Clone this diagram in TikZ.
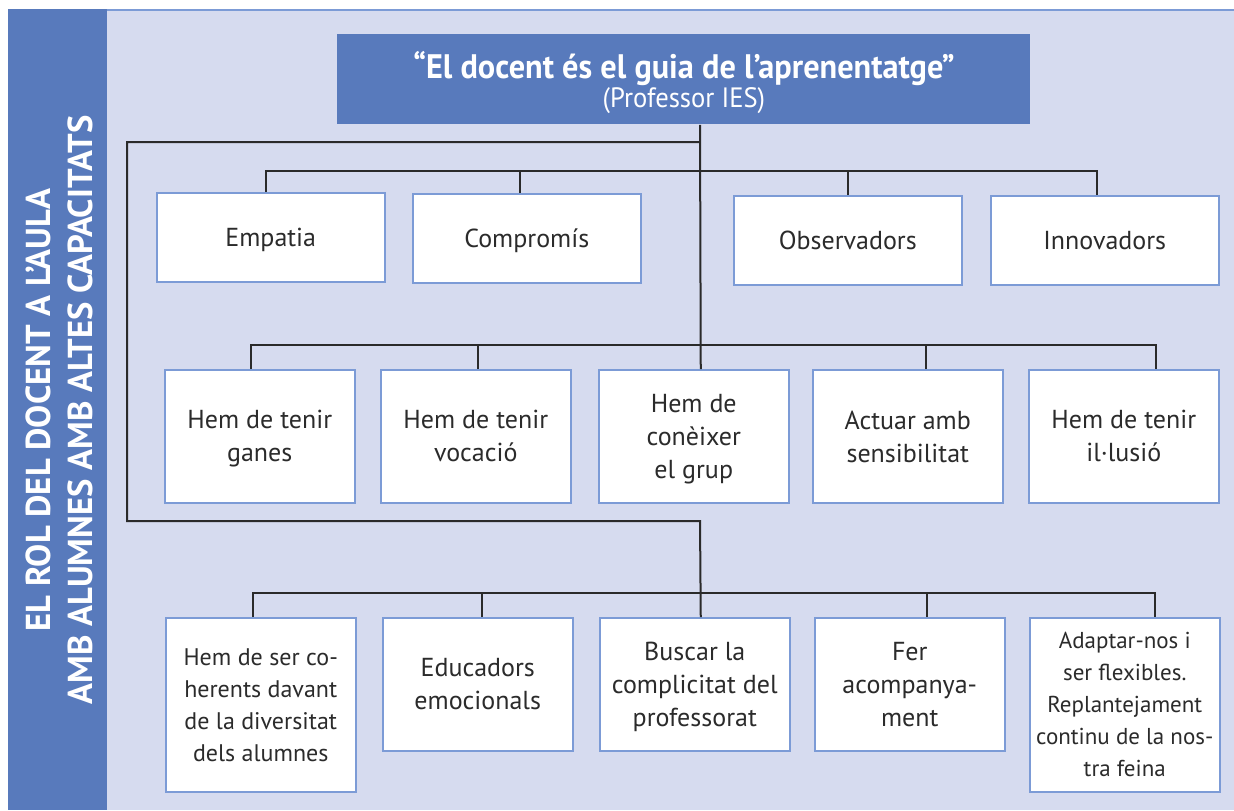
\documentclass[tikz,border=0pt]{standalone}
\usepackage{fontspec}
\setmainfont{PT Sans}
\newfontfamily\ttlfamily[FakeStretch=0.95]{PT Sans}
\usetikzlibrary{calc,positioning}
\usepackage{xcolor}
\newcommand{\pxu}{0.5pt}
\definecolor{bandblue}{HTML}{587ABC}
\definecolor{lavender}{HTML}{D6DBEF}
\definecolor{boxline}{HTML}{7C9BD6}
\definecolor{linegray}{HTML}{2A2A2A}
\definecolor{txtgray}{HTML}{2B2B2B}
\tikzset{
    boxsty/.style={draw=boxline,line width=0.75pt,fill=white,rectangle,anchor=north west,
        align=center,text=txtgray,inner sep=0pt,minimum width=190*\pxu,minimum height=133*\pxu,
        text depth=-3pt,font=\fontsize{13}{16.5}\selectfont},
    widesty/.style={minimum width=228*\pxu,minimum height=89*\pxu},
    tallsty/.style={minimum height=174*\pxu},
    smallsty/.style={font=\fontsize{11.5}{16}\selectfont},
    linesty/.style={draw=linegray,line width=1pt},
    titlesty/.style={fill=bandblue,rectangle,anchor=north west,align=center,text=white,
        inner sep=0pt,text depth=0pt,minimum width=693*\pxu,minimum height=90*\pxu},
    bandsty/.style={rotate=90,align=center,text=white,
        font=\fontsize{17.3}{21}\selectfont\bfseries},
}

\begin{document}
\begin{tikzpicture}[x=\pxu,y=-\pxu]
\useasboundingbox (0,0) rectangle (1234,810);
\fill[white] (0,0) rectangle (1234,810);
\fill[lavender] (107,10) rectangle (1234,810);
\draw[boxline,line width=0.6pt] (107,10) -- (1234,10);
\fill[bandblue] (8,9) rectangle (107,810);
\node[bandsty] (band) at (59,410) {EL ROL DEL DOCENT A L’AULA\\AMB ALUMNES AMB ALTES CAPACITATS};

\node[titlesty] (guia) at (337,34)
  {{\ttlfamily\bfseries\fontsize{17}{20}\selectfont “El docent és el guia de l’aprenentatge”}\\
   {\ttlfamily\fontsize{14}{17}\selectfont (Professor IES)}};

% first row
\node[boxsty,widesty] (emp) at (156,192) {Empatia};
\node[boxsty,widesty] (com) at (412,193) {Compromís};
\node[boxsty,widesty] (obs) at (733,195) {Observadors};
\node[boxsty,widesty] (inn) at (990,195) {Innovadors};

% second row
\node[boxsty] (gan) at (164,369) {Hem de tenir\\ganes};
\node[boxsty] (voc) at (380,369) {Hem de tenir\\vocació};
\node[boxsty] (con) at (598,369) {Hem de\\conèixer\\el grup};
\node[boxsty] (sen) at (812,369) {Actuar amb\\sensibilitat};
\node[boxsty] (ilu) at (1028,369) {Hem de tenir\\il·lusió};

% third row
\node[boxsty,tallsty,font=\fontsize{12}{16}\selectfont] (coh) at (165,617) {Hem de ser co-\\herents davant\\de la diversitat\\dels alumnes};
\node[boxsty] (edu) at (382,617) {Educadors\\emocionals};
\node[boxsty] (cpl) at (599,617) {Buscar la\\complicitat del\\professorat};
\node[boxsty] (aco) at (814,617) {Fer\\acompanya-\\ment};
\node[boxsty,tallsty,smallsty] (ada) at (1029,617) {Adaptar-nos i\\ser flexibles.\\Replantejament\\continu de la nos-\\tra feina};

\coordinate (hub0) at (700,142);
\coordinate (hub1) at (700,171);
\coordinate (hub2) at (700,345);
\coordinate (hub3) at (700,593);
\coordinate (c1) at (127,142);
\coordinate (c2) at (127,521);
\coordinate (c3) at (700,521);

% trunk and loop round
\draw[linesty] (guia.south -| hub2) -- ([xshift=3.5pt]con.north);
\draw[linesty] (hub0) -- (c1) -- (c2) -- (c3) -- ([xshift=3pt]cpl.north);

% first row bus
\draw[linesty] ([xshift=-2.5pt]emp.north) |- (hub1) -| ([xshift=-4pt]inn.north);
\draw[linesty] ([xshift=-3.5pt]com.north) -- ++(0,-22);
\draw[linesty] (obs.north) -- ++(0,-24);

% second row bus
\draw[linesty] ([xshift=-4.5pt]gan.north) |- (hub2) -| ([xshift=16pt]ilu.north);
\draw[linesty] ([xshift=1.25pt]voc.north) -- ++(0,-24);
\draw[linesty] ([xshift=9pt]sen.north) -- ++(0,-24);

% third row bus
\draw[linesty] ([xshift=-4pt]coh.north) |- (hub3) -| ([xshift=15pt]ada.north);
\draw[linesty] ([xshift=2pt]edu.north) -- ++(0,-24);
\draw[linesty] ([xshift=8.5pt]aco.north) -- ++(0,-24);
\end{tikzpicture}
\end{document}
